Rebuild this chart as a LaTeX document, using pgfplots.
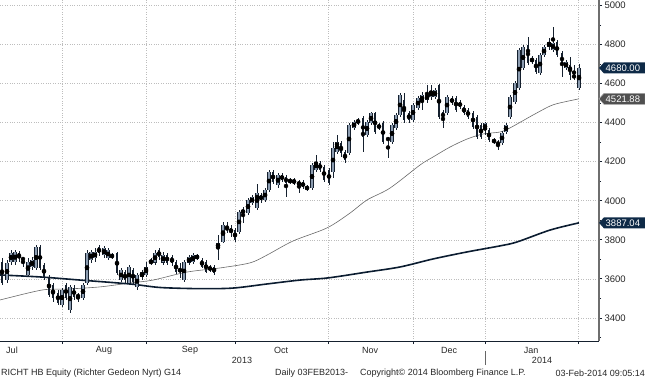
\documentclass[border=0pt]{standalone}
\usepackage{pgfplots}
\pgfplotsset{compat=1.18}
\usepackage{pgfplotstable}
\usepackage{fontspec}
\setmainfont{Liberation Sans}
\definecolor{bbnavy}{HTML}{0E2A47}
\definecolor{candleline}{HTML}{15202E}
\definecolor{upfill}{HTML}{8C9CB0}
\definecolor{gridc}{HTML}{BDBDBD}
\definecolor{ma50c}{HTML}{6A6A6A}
\definecolor{ma200c}{HTML}{0B1C30}
\definecolor{axisgray}{HTML}{6E6E6E}
\definecolor{boxgray}{HTML}{505050}

\pgfplotstableread{
x o h l c
2 3687 3707 3569 3579
7 3594 3697 3579 3682
11 3687 3748 3671 3733
15 3687 3748 3671 3738
19 3733 3743 3687 3707
23 3707 3712 3661 3697
28 3620 3707 3610 3687
32 3661 3712 3646 3697
36 3656 3774 3646 3763
40 3763 3774 3646 3656
44 3671 3682 3594 3610
49 3610 3620 3507 3518
53 3569 3579 3482 3502
58 3528 3543 3466 3477
62 3466 3553 3456 3543
66 3569 3579 3492 3502
70 3441 3569 3425 3559
74 3553 3569 3492 3507
78 3518 3528 3482 3507
83 3502 3579 3492 3569
87 3579 3748 3569 3733
91 3697 3748 3682 3738
95 3707 3758 3687 3738
99 3763 3774 3717 3733
104 3722 3768 3707 3758
108 3707 3758 3697 3748
112 3722 3733 3702 3712
117 3733 3738 3620 3630
121 3594 3656 3584 3646
125 3635 3646 3579 3594
129 3579 3671 3569 3661
133 3646 3656 3569 3584
137 3559 3630 3543 3620
142 3610 3646 3594 3635
146 3620 3687 3610 3661
151 3682 3707 3671 3692
155 3682 3748 3671 3733
159 3748 3758 3697 3712
163 3682 3738 3671 3722
167 3722 3733 3671 3682
172 3712 3722 3666 3682
176 3687 3697 3625 3635
180 3656 3682 3605 3635
184 3594 3697 3584 3687
189 3682 3722 3671 3712
193 3687 3733 3676 3722
197 3707 3728 3697 3717
202 3697 3707 3656 3661
206 3687 3697 3630 3635
210 3661 3671 3635 3646
214 3661 3671 3620 3630
218 3758 3825 3697 3784
223 3789 3891 3784 3876
227 3866 3891 3835 3850
231 3861 3876 3815 3835
235 3850 3861 3789 3799
239 3840 3953 3830 3943
243 3937 3968 3886 3953
248 3937 4014 3927 4004
252 3989 4030 3978 4019
257 3963 4086 3953 4040
261 4030 4040 3989 4004
265 4004 4065 3994 4055
269 4055 4158 4045 4147
273 4147 4158 4086 4096
278 4081 4142 4065 4132
282 4132 4142 4096 4106
286 4122 4132 4019 4091
290 4106 4117 4086 4096
294 4091 4117 4081 4106
299 4081 4106 4040 4096
303 4096 4106 4060 4071
307 4071 4081 4050 4060
312 4065 4193 4055 4183
316 4158 4234 4147 4199
320 4193 4204 4147 4158
324 4173 4183 4096 4106
329 4158 4168 4081 4091
333 4147 4301 4117 4270
337 4250 4337 4240 4301
341 4296 4306 4224 4245
345 4250 4260 4193 4209
349 4245 4398 4234 4388
354 4373 4414 4362 4403
358 4398 4424 4388 4414
363 4424 4434 4250 4327
367 4337 4414 4327 4403
371 4398 4454 4388 4449
375 4449 4454 4342 4352
379 4388 4398 4362 4373
383 4398 4408 4291 4301
388 4321 4327 4219 4311
392 4301 4398 4291 4388
396 4373 4449 4362 4439
400 4439 4552 4429 4542
404 4516 4552 4398 4414
409 4449 4460 4398 4414
413 4414 4501 4403 4490
418 4475 4536 4465 4526
422 4506 4557 4465 4542
427 4516 4593 4501 4542
431 4531 4593 4516 4562
435 4531 4577 4521 4567
439 4593 4598 4419 4429
443 4454 4465 4373 4424
447 4449 4542 4439 4531
452 4526 4536 4490 4501
456 4526 4536 4454 4465
460 4506 4516 4470 4480
464 4480 4490 4439 4449
468 4465 4475 4419 4429
473 4449 4460 4368 4378
477 4429 4439 4316 4327
481 4388 4398 4316 4327
485 4362 4403 4337 4398
489 4362 4373 4301 4311
494 4311 4321 4291 4301
498 4301 4311 4260 4286
502 4296 4357 4286 4347
506 4352 4398 4342 4388
510 4429 4542 4419 4531
515 4506 4613 4496 4603
519 4577 4782 4567 4772
523 4680 4798 4670 4787
528 4798 4839 4695 4705
532 4731 4741 4700 4711
536 4721 4731 4649 4659
540 4654 4757 4644 4746
544 4746 4798 4736 4787
549 4787 4834 4772 4813
553 4772 4890 4762 4808
557 4813 4823 4736 4746
562 4757 4767 4634 4695
566 4680 4721 4670 4711
570 4695 4736 4618 4644
574 4644 4695 4618 4629
579 4577 4700 4567 4680
}\candles

\begin{document}
\begin{tikzpicture}
\path[use as bounding box] (0pt,-39pt) rectangle (645pt,341pt);
\begin{axis}[
  at={(0pt,0pt)}, anchor=south west,
  scale only axis, width=599pt, height=341pt,
  xmin=0, xmax=599, ymin=3282, ymax=5028,
  clip=false,
  axis x line*=bottom, axis y line*=right,
  x axis line style={candleline, line width=0.8pt},
  y axis line style={axisgray, line width=2pt},
  xtick={62,146,235,328,413,485,578},
  xticklabels={},
  ytick={3400,3600,...,5000},
  minor ytick={3300,3500,...,4900},
  tick align=outside,
  major tick length=3pt, minor tick length=2pt,
  tick style={candleline, line width=0.8pt},
  xmajorgrids, ymajorgrids,
  major grid style={gridc, dotted, line width=0.6pt},
  scaled y ticks=false,
  /pgf/number format/.cd, 1000 sep={}, assume math mode=true,
  /pgfplots/.cd,
  yticklabel style={font=\fontsize{9.5}{10}\selectfont, text=black!85, xshift=-1pt},
]
% moving averages
\addplot[ma50c, line width=0.6pt, smooth] coordinates {
(0,3492) (42,3543) (67,3548) (100,3559) (130,3579) (153,3594) (187,3635)
(220,3656) (250,3682) (267,3722) (293,3794) (327,3861) (350,3937) (367,4004)
(390,4065) (420,4183) (433,4224) (450,4275) (467,4316) (483,4342) (500,4352)
(510,4373) (533,4439) (550,4485) (560,4501) (579,4522)};
\addplot[ma200c, line width=1.6pt, smooth] coordinates {
(0,3620) (40,3610) (80,3594) (130,3574) (160,3556) (200,3550) (233,3553)
(267,3574) (300,3594) (328,3605) (367,3635) (400,3661) (433,3702) (467,3738)
(500,3769) (517,3789) (550,3850) (579,3887)};
% wicks
\addplot[only marks, mark=none,
  error bars/.cd, y dir=both, y explicit, error mark=none,
  error bar style={candleline, line width=0.8pt}]
  table[x=x, y expr={(\thisrow{h}+\thisrow{l})/2}, y error expr={(\thisrow{h}-\thisrow{l})/2}] {\candles};
% down bodies
\addplot[only marks, mark=none,
  error bars/.cd, y dir=both, y explicit, error mark=none,
  error bar style={candleline, line width=2.8pt}]
  table[x=x, y expr={\thisrow{c}<\thisrow{o} ? (\thisrow{o}+\thisrow{c})/2 : 9000},
        y error expr={max(abs(\thisrow{o}-\thisrow{c})/2,4)}] {\candles};
% up bodies outline
\addplot[only marks, mark=none,
  error bars/.cd, y dir=both, y explicit, error mark=none,
  error bar style={candleline, line width=3.2pt}]
  table[x=x, y expr={\thisrow{c}<\thisrow{o} ? 9000 : (\thisrow{o}+\thisrow{c})/2},
        y error expr={max(abs(\thisrow{o}-\thisrow{c})/2,4)}] {\candles};
% up bodies fill
\addplot[only marks, mark=none,
  error bars/.cd, y dir=both, y explicit, error mark=none,
  error bar style={upfill, line width=2.1pt}]
  table[x=x, y expr={\thisrow{c}<\thisrow{o} ? 9000 : (\thisrow{o}+\thisrow{c})/2},
        y error expr={max(abs(\thisrow{o}-\thisrow{c})/2-2.0,0.8)}] {\candles};
\coordinate (b1) at (axis cs:599,4680);
\coordinate (b2) at (axis cs:599,4522);
\coordinate (b3) at (axis cs:599,3887);
\end{axis}
% last value boxes
\fill[bbnavy] (b1) -- ++(5pt,5.5pt) -- ++(41pt,0pt) -- ++(0pt,-11pt) -- ++(-41pt,0pt) -- cycle;
\node[text=white, font=\fontsize{9.5}{10}\selectfont, anchor=west, inner sep=0pt] at ([xshift=6.5pt]b1) {4680.00};
\filldraw[fill=boxgray, draw=black!35, line width=0.5pt] (b2) -- ++(5pt,5.5pt) -- ++(41pt,0pt) -- ++(0pt,-11pt) -- ++(-41pt,0pt) -- cycle;
\node[text=white, font=\fontsize{9.5}{10}\selectfont, anchor=west, inner sep=0pt] at ([xshift=6.5pt]b2) {4521.88};
\fill[bbnavy] (b3) -- ++(5pt,5.5pt) -- ++(41pt,0pt) -- ++(0pt,-11pt) -- ++(-41pt,0pt) -- cycle;
\node[text=white, font=\fontsize{9.5}{10}\selectfont, anchor=west, inner sep=0pt] at ([xshift=6.5pt]b3) {3887.04};
% x-axis labels
\begin{scope}[every node/.style={font=\fontsize{9}{10}\selectfont, text=black!85, inner sep=0pt}]
\node at (12pt,-9pt) {Jul};
\node at (104pt,-9pt) {Aug};
\node at (190pt,-9pt) {Sep};
\node at (281pt,-9pt) {Oct};
\node at (370pt,-9pt) {Nov};
\node at (449pt,-9pt) {Dec};
\node at (531pt,-9pt) {Jan};
\node at (242pt,-19pt) {2013};
\node at (542pt,-19pt) {2014};
\draw[black!60, line width=0.6pt] (485pt,-10pt) -- (485pt,-24pt);
\node[anchor=west] at (1pt,-32pt) {RICHT HB Equity (Richter Gedeon Nyrt) G14};
\node[anchor=west] at (275pt,-32pt) {Daily 03FEB2013-};
\node[anchor=west] at (360pt,-32pt) {Copyright© 2014 Bloomberg Finance L.P.};
\node[anchor=east] at (645pt,-32pt) {03-Feb-2014 09:05:14};
\end{scope}
\end{tikzpicture}
\end{document}
